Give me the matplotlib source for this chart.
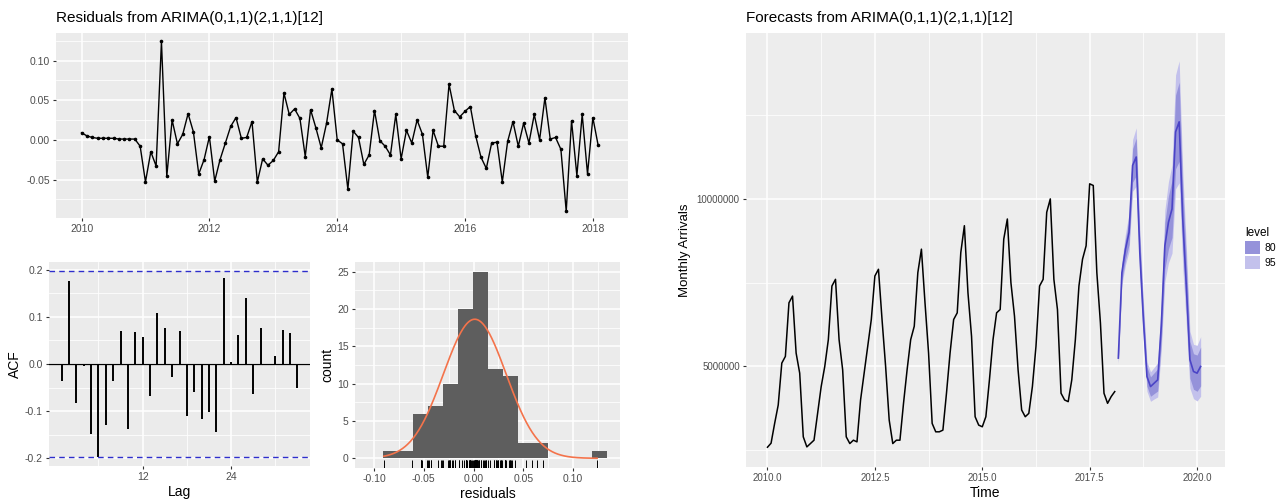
import numpy as np
import matplotlib.pyplot as plt
from matplotlib.patches import Patch

plt.rcParams["font.family"] = ["Liberation Sans", "DejaVu Sans"]

# ---- data ----
start_year = 2010

residuals = [
    0.009, 0.005, 0.003, 0.002, 0.002, 0.002, 0.002, 0.001, 0.001, 0.001, 0.001, -0.008,
    -0.053, -0.015, -0.033, 0.124, -0.046, 0.025, -0.005, 0.007, 0.033, 0.010, -0.043, -0.025,
    0.004, -0.052, -0.025, -0.004, 0.017, 0.028, 0.002, 0.003, 0.023, -0.053, -0.024, -0.032,
    -0.026, -0.015, 0.059, 0.032, 0.039, 0.027, -0.021, 0.038, 0.015, -0.010, 0.021, 0.064,
    0.000, -0.005, -0.062, 0.011, 0.003, -0.031, -0.019, 0.037, -0.001, -0.008, -0.019, 0.032,
    -0.024, 0.012, -0.004, 0.025, 0.007, -0.047, 0.012, -0.008, -0.008, 0.070, 0.037, 0.029,
    0.036, 0.042, 0.005, -0.022, -0.036, -0.004, -0.003, -0.053, -0.002, 0.023, -0.008, 0.021,
    -0.004, 0.032, 0.000, 0.053, 0.001, 0.003, -0.012, -0.090, 0.024, -0.045, 0.032, -0.043,
    0.028, -0.007,
]

# monthly arrivals, millions
arrivals_m = [
    2.59, 2.71, 3.30, 3.85, 5.10, 5.30, 6.90, 7.10, 5.40, 4.80, 2.90, 2.60,
    2.70, 2.80, 3.60, 4.40, 5.00, 5.80, 7.40, 7.60, 5.80, 4.90, 2.90, 2.70,
    2.80, 2.75, 4.00, 4.80, 5.60, 6.40, 7.70, 7.90, 6.40, 5.00, 3.40, 2.70,
    2.80, 2.80, 3.90, 4.90, 5.80, 6.20, 7.80, 8.50, 6.90, 5.40, 3.30, 3.05,
    3.05, 3.10, 4.20, 5.40, 6.40, 6.60, 8.40, 9.20, 7.20, 5.90, 3.50, 3.25,
    3.20, 3.50, 4.60, 5.80, 6.60, 6.70, 8.80, 9.40, 7.50, 6.50, 4.90, 3.70,
    3.50, 3.60, 4.40, 5.60, 7.40, 7.60, 9.60, 10.00, 7.60, 6.70, 4.20, 4.00,
    3.95, 4.60, 5.80, 7.40, 8.20, 8.60, 10.45, 10.40, 7.80, 6.30, 4.20, 3.90,
    4.10, 4.25,
]

fc_mean_m = [5.25, 7.80, 8.50, 9.00, 11.00, 11.25, 8.40, 6.40, 4.70, 4.40, 4.50, 4.60,
             6.20, 8.60, 9.30, 9.70, 12.00, 12.30, 9.40, 7.40, 5.20, 4.85, 4.80, 5.00]
fc_lo80_m = [5.13, 7.57, 8.19, 8.64, 10.50, 10.69, 7.95, 6.03, 4.41, 4.11, 4.19, 4.27,
             5.72, 7.91, 8.51, 8.85, 10.90, 11.12, 8.46, 6.64, 4.65, 4.32, 4.26, 4.42]
fc_hi80_m = [5.37, 8.03, 8.81, 9.36, 11.50, 11.81, 8.85, 6.77, 4.99, 4.69, 4.81, 4.93,
             6.68, 9.29, 10.09, 10.55, 13.10, 13.48, 10.34, 8.16, 5.75, 5.38, 5.34, 5.58]
fc_lo95_m = [5.07, 7.45, 8.03, 8.44, 10.23, 10.38, 7.70, 5.83, 4.26, 3.96, 4.03, 4.09,
             5.47, 7.53, 8.09, 8.38, 10.30, 10.48, 7.96, 6.23, 4.35, 4.04, 3.97, 4.11]
fc_hi95_m = [5.43, 8.15, 8.97, 9.56, 11.77, 12.12, 9.10, 6.97, 5.14, 4.84, 4.97, 5.11,
             6.93, 9.67, 10.51, 11.02, 13.70, 14.12, 10.84, 8.57, 6.05, 5.66, 5.63, 5.89]

acf_values = [
    -0.036, 0.177, -0.084, -0.005, -0.148, -0.198, -0.129, -0.037, 0.070, -0.138, 0.068,
    0.057, -0.068, 0.109, 0.077, -0.028, 0.070, -0.111, -0.060, -0.118, -0.102, -0.145,
    0.184, 0.004, 0.062, 0.140, -0.063, 0.077, 0.001, 0.018, 0.073, 0.067, -0.051,
]
acf_limit = 0.198

hist_left = -0.0907
hist_binwidth = 0.015
hist_counts = [1, 1, 6, 7, 10, 20, 25, 12, 11, 2, 2, 0, 0, 0, 1]

level_labels = ["80", "95"]

# ---- styling ----
W, H = 1282, 501
PANEL = "#ebebeb"
TICK_TXT = "#4d4d4d"
COL80 = "#9592da"
COL95 = "#c3c1ec"
LINE_FC = "#4b44c6"


def rect(l, t, r, b):
    return [l / W, 1 - b / H, (r - l) / W, (b - t) / H]


def gg_style(ax, bg=PANEL, labelsize=7.5):
    ax.set_facecolor(bg)
    for s in ax.spines.values():
        s.set_visible(False)
    ax.grid(True, which="major", color="white", linewidth=1.1)
    ax.grid(True, which="minor", color="white", linewidth=0.55)
    ax.set_axisbelow(True)
    ax.tick_params(which="major", length=2.5, width=0.8, color="#333333",
                   labelsize=labelsize, labelcolor=TICK_TXT, pad=2)
    ax.tick_params(which="minor", length=0)


fig = plt.figure(figsize=(W / 100, H / 100), dpi=100)

# residual time plot
ax1 = fig.add_axes(rect(56, 33, 628, 218))
gg_style(ax1)
t_obs = start_year + np.arange(len(residuals)) / 12
ax1.plot(t_obs, residuals, color="black", lw=1.0, marker="o", ms=1.6)
ax1.set_xlim(2009.6, 2018.55)
ax1.set_ylim(-0.0985, 0.1347)
ax1.set_xticks([2010, 2012, 2014, 2016, 2018])
ax1.set_xticks([2011, 2013, 2015, 2017], minor=True)
ax1.set_yticks([-0.05, 0.0, 0.05, 0.10])
ax1.set_yticklabels(["-0.05", "0.00", "0.05", "0.10"])
ax1.set_yticks([-0.075, -0.025, 0.025, 0.075, 0.125], minor=True)
fig.text(56 / W, 1 - 18 / H, "Residuals from ARIMA(0,1,1)(2,1,1)[12]",
         fontsize=11, va="center", ha="left")

# ACF
ax2 = fig.add_axes(rect(49, 262, 310, 466))
gg_style(ax2)
lags = np.arange(1, len(acf_values) + 1)
ax2.axhline(0, color="black", lw=0.9)
ax2.vlines(lags, 0, acf_values, color="black", lw=1.4)
for lim in (acf_limit, -acf_limit):
    ax2.axhline(lim, color="#2e2ecc", lw=1.0, ls=(0, (4, 3)))
ax2.set_xlim(-0.7, 34.7)
ax2.set_ylim(-0.217, 0.217)
ax2.set_xticks([12, 24])
ax2.set_xticks([6, 18, 30], minor=True)
ax2.set_yticks([-0.2, -0.1, 0.0, 0.1, 0.2])
ax2.set_yticklabels(["-0.2", "-0.1", "0.0", "0.1", "0.2"])
ax2.set_yticks([-0.15, -0.05, 0.05, 0.15], minor=True)
ax2.set_xlabel("Lag", fontsize=10, labelpad=2)
ax2.set_ylabel("ACF", fontsize=10, labelpad=2)

# histogram of residuals
ax3 = fig.add_axes(rect(355, 262, 620, 468))
gg_style(ax3)
edges = hist_left + hist_binwidth * np.arange(len(hist_counts))
ax3.bar(edges, hist_counts, width=hist_binwidth, align="edge", color="#5e5e5e", lw=0)
res = np.array(residuals)
xs = np.linspace(res.min(), res.max(), 300)
sd = res.std(ddof=1)
dens = np.exp(-0.5 * ((xs - res.mean()) / sd) ** 2) / (sd * np.sqrt(2 * np.pi))
ax3.plot(xs, dens * len(res) * hist_binwidth, color="#f4734b", lw=1.2)
ax3.vlines(res, 0, 0.04, transform=ax3.get_xaxis_transform(), color="black", lw=0.7)
ax3.set_xlim(-0.119, 0.147)
ax3.set_ylim(-1.3, 26.3)
ax3.set_xticks([-0.10, -0.05, 0.0, 0.05, 0.10])
ax3.set_xticklabels(["-0.10", "-0.05", "0.00", "0.05", "0.10"])
ax3.set_xticks([-0.075, -0.025, 0.025, 0.075, 0.125], minor=True)
ax3.set_yticks([0, 5, 10, 15, 20, 25])
ax3.set_yticks([2.5, 7.5, 12.5, 17.5, 22.5], minor=True)
ax3.set_xlabel("residuals", fontsize=10, labelpad=2)
ax3.set_ylabel("count", fontsize=10, labelpad=2)

# forecast plot
ax4 = fig.add_axes(rect(746, 33, 1225, 467))
gg_style(ax4, bg="#ededed", labelsize=7)
t_fc = start_year + (len(arrivals_m) + np.arange(len(fc_mean_m))) / 12
scale = 1e6
ax4.fill_between(t_fc, np.array(fc_lo95_m) * scale, np.array(fc_hi95_m) * scale,
                 color=COL95, lw=0)
ax4.fill_between(t_fc, np.array(fc_lo80_m) * scale, np.array(fc_hi80_m) * scale,
                 color=COL80, lw=0)
ax4.plot(t_fc, np.array(fc_mean_m) * scale, color=LINE_FC, lw=1.2)
ax4.plot(t_obs, np.array(arrivals_m) * scale, color="black", lw=1.1)
ax4.set_xlim(2009.5, 2020.65)
ax4.set_ylim(2.0e6, 14.95e6)
ax4.set_xticks([2010, 2012.5, 2015, 2017.5, 2020])
ax4.set_xticklabels(["2010.0", "2012.5", "2015.0", "2017.5", "2020.0"])
ax4.set_xticks([2011.25, 2013.75, 2016.25, 2018.75], minor=True)
ax4.set_yticks([5e6, 10e6])
ax4.set_yticklabels(["5000000", "10000000"])
ax4.set_yticks([2.5e6, 7.5e6, 12.5e6], minor=True)
ax4.set_xlabel("Time", fontsize=10, labelpad=2)
ax4.set_ylabel("Monthly Arrivals", fontsize=9.5, labelpad=4)
fig.text(746 / W, 1 - 18 / H, "Forecasts from ARIMA(0,1,1)(2,1,1)[12]",
         fontsize=11, va="center", ha="left")

handles = [Patch(facecolor=COL80, edgecolor="none"), Patch(facecolor=COL95, edgecolor="none")]
fig.legend(handles, level_labels, title="level", loc="upper left",
           bbox_to_anchor=(1238 / W, 1 - 220 / H), frameon=False, fontsize=7.5,
           title_fontsize=8.5, handlelength=1.4, handleheight=1.6, handletextpad=0.4,
           labelspacing=0.15, alignment="left", borderpad=0.2)

fig.savefig("out.png", dpi=100)
